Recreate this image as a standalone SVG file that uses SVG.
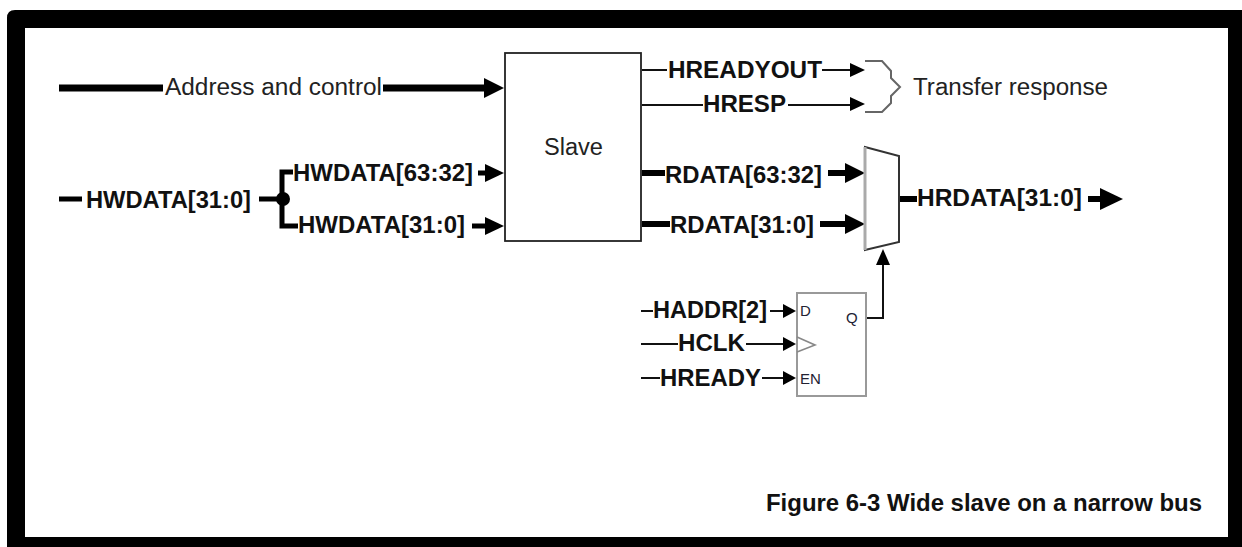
<svg xmlns="http://www.w3.org/2000/svg" width="1242" height="547" viewBox="0 0 1242 547">
<style>
text{font-family:"Liberation Sans",Arial,sans-serif;fill:#111}
.b{font-weight:bold;font-size:23.5px}
.r{font-size:23.5px;fill:#222}
.s{font-size:15px;fill:#223}
.w{fill:none;stroke:#000;stroke-width:7}
.m{fill:none;stroke:#000;stroke-width:5}
.n{fill:none;stroke:#000;stroke-width:6}
.t{fill:none;stroke:#111;stroke-width:2}
.box{fill:#fff;stroke:#222;stroke-width:1.8}
.hd{fill:#000}
</style>
<rect x="0" y="0" width="1242" height="547" fill="#fff"/>
<path id="frame" fill="#000" fill-rule="evenodd" d="M15 10H1242V547H7V18Q7 10 15 10ZM25 28V537H1228V28Z"/>
<g id="connectors">
<path class="w" d="M59 88H163M383 88H486"/>
<polygon class="hd" points="484,78 504,88 484,98"/>
<path class="m" d="M59 199H82M259 199H282M293 172H282V226H298"/>
<circle class="hd" cx="283" cy="199" r="7"/>
<path class="m" d="M478 173H488M472 226H488"/>
<polygon class="hd" points="485,164 504,173 485,182"/>
<polygon class="hd" points="485,217 504,226 485,235"/>
<path class="t" d="M642 70H667M822 70H852M642 105H703M788 105H852"/>
<polygon class="hd" points="850,63 865,70 850,77"/>
<polygon class="hd" points="850,97 865,104 850,111"/>
<path class="n" d="M642 173H665M828 173H848M642 224H670M820 224H848"/>
<polygon class="hd" points="845,163 865,173 845,183"/>
<polygon class="hd" points="845,214 865,224 845,234"/>
<path class="n" d="M899 199H917M1088 199H1104"/>
<polygon class="hd" points="1100,188 1123,199 1100,210"/>
<path class="t" d="M641 311H653M770 311H785M641 344H678M746 344H785M641 378H660M762 378H785"/>
<polygon class="hd" points="783,304 796,311 783,318"/>
<polygon class="hd" points="783,337 796,344 783,351"/>
<polygon class="hd" points="783,371 796,378 783,385"/>
<path class="t" d="M866 318H883V262"/>
<polygon class="hd" points="876,265 883,249 890,265"/>
</g>
<g id="slave"><rect class="box" x="505" y="53" width="136" height="188"/><text class="r" x="544" y="155" textLength="59" lengthAdjust="spacingAndGlyphs">Slave</text></g>
<g id="mux"><polygon points="865,147 899,156 899,242 865,250" fill="none" stroke="#333" stroke-width="2"/><path d="M865 147V250" stroke="#aaa" stroke-width="3" fill="none"/></g>
<path id="brace" d="M865 61H882L891 71V78L900 87L891 96V103L882 112H865" fill="none" stroke="#666" stroke-width="2"/>
<g id="ff"><rect x="797" y="293" width="69" height="103" fill="#fff" stroke="#999" stroke-width="2"/><path d="M797 337L815 345L797 352" fill="none" stroke="#888" stroke-width="1.6"/><text class="s" x="800" y="316">D</text><text class="s" x="846" y="323">Q</text><text class="s" x="800" y="384">EN</text></g>
<g id="labels">
<text class="r" x="165" y="95" textLength="217" lengthAdjust="spacingAndGlyphs">Address and control</text>
<text class="b" x="86" y="208" textLength="165" lengthAdjust="spacingAndGlyphs">HWDATA[31:0]</text>
<text class="b" x="293" y="181" textLength="180" lengthAdjust="spacingAndGlyphs">HWDATA[63:32]</text>
<text class="b" x="298" y="233" textLength="167" lengthAdjust="spacingAndGlyphs">HWDATA[31:0]</text>
<text class="b" x="668" y="78" textLength="154" lengthAdjust="spacingAndGlyphs">HREADYOUT</text>
<text class="b" x="703" y="112" textLength="83" lengthAdjust="spacingAndGlyphs">HRESP</text>
<text class="r" x="913" y="95" textLength="195" lengthAdjust="spacingAndGlyphs">Transfer response</text>
<text class="b" x="665" y="183" textLength="157" lengthAdjust="spacingAndGlyphs">RDATA[63:32]</text>
<text class="b" x="670" y="233" textLength="144" lengthAdjust="spacingAndGlyphs">RDATA[31:0]</text>
<text class="b" x="917" y="206" textLength="165" lengthAdjust="spacingAndGlyphs">HRDATA[31:0]</text>
<text class="b" x="653" y="318" textLength="114" lengthAdjust="spacingAndGlyphs">HADDR[2]</text>
<text class="b" x="678" y="351" textLength="67" lengthAdjust="spacingAndGlyphs">HCLK</text>
<text class="b" x="660" y="386" textLength="101" lengthAdjust="spacingAndGlyphs">HREADY</text>
<text x="766" y="511" textLength="436" lengthAdjust="spacingAndGlyphs" style="font-weight:bold;font-size:23px">Figure 6-3 Wide slave on a narrow bus</text>
</g>
</svg>
